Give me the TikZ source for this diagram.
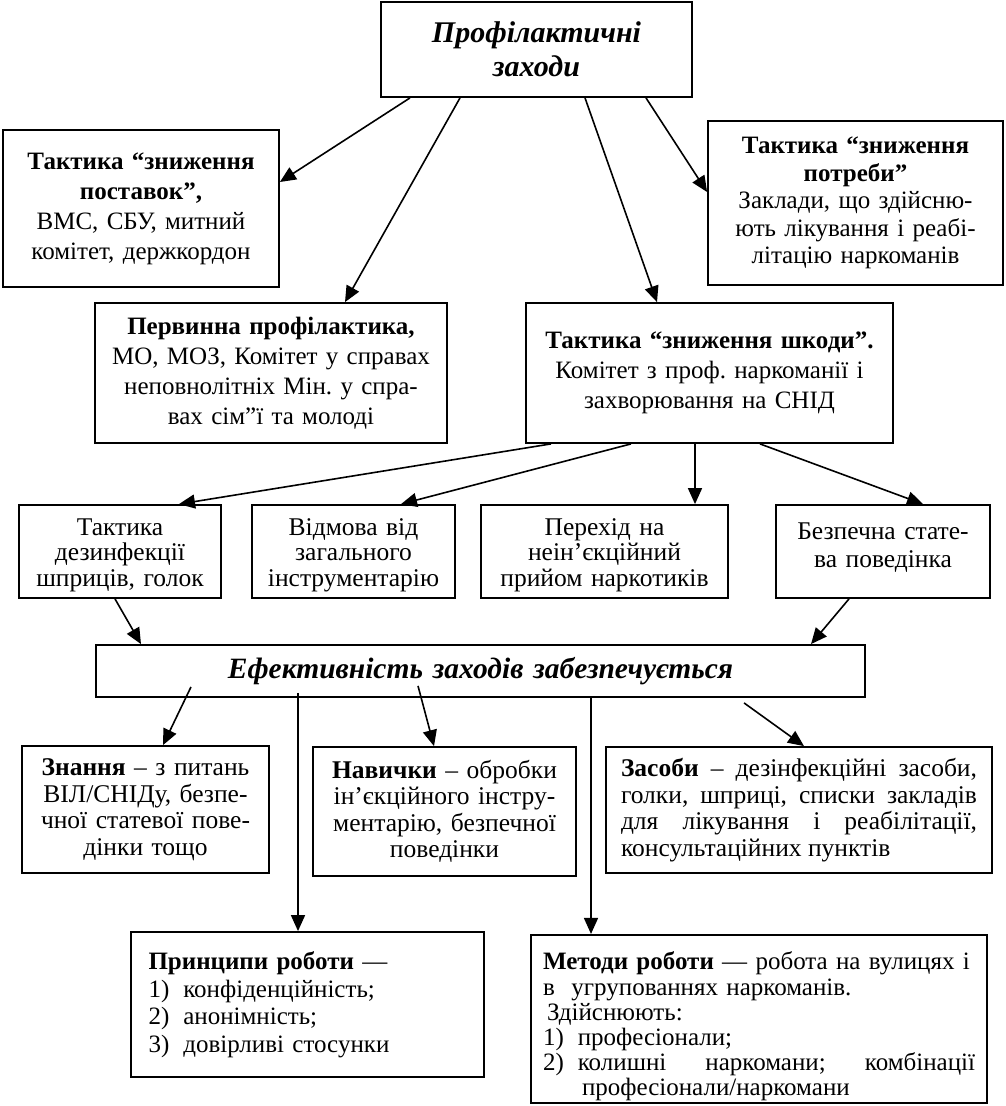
\documentclass[tikz,border=0pt]{standalone}
\usepackage{fontspec}
\setmainfont{Liberation Serif}
\usetikzlibrary{arrows.meta}
\tikzset{
  box/.style={draw, line width=1.8pt, rectangle, inner sep=2pt, align=center,
    font=\fontsize{25}{30}\selectfont\frenchspacing},
  rowbox/.style={box, font=\fontsize{25.5}{25.5}\selectfont},
  lowbox/.style={box, font=\fontsize{25.5}{26.5}\selectfont\frenchspacing},
  arr/.style={line width=1.6pt, -{Triangle[length=16pt,width=14pt]}},
}
\begin{document}
\begin{tikzpicture}[x=1pt,y=-1pt]
\useasboundingbox (0,0) rectangle (1005,1106);
\fill[white] (0,0) rectangle (1005,1106);

\node[box, minimum width=311pt, minimum height=95pt, text width=290pt,
  font=\fontsize{30}{34}\selectfont] (top) at (536.5,49.5)
  {\textbf{\textit{Профілактичні\\заходи}}};

\node[box, minimum width=276pt, minimum height=157pt, text width=266pt] (postavok) at (141,208.5)
  {\textbf{Тактика “зниження\\поставок”,}\\ВМС, СБУ, митний\\комітет, держкордон};

\node[box, minimum width=295pt, minimum height=164pt, text width=284pt,
  font=\fontsize{25}{27.5}\selectfont] (potreby) at (855.5,203)
  {\textbf{Тактика “зниження\\потреби”}\\Заклади, що здійсню-\\ють лікування і реабі-\\літацію наркоманів};

\node[box, minimum width=352pt, minimum height=140pt, text width=342pt] (pervynna) at (271,373)
  {\textbf{Первинна профілактика,}\\МО, МОЗ, Комітет у справах\\неповнолітніх Мін. у спра-\\вах сім”ї та  молоді};

\node[box, minimum width=367pt, minimum height=140pt, text width=356pt] (shkody) at (709.5,373)
  {\textbf{Тактика “зниження шкоди”.}\\Комітет з проф. наркоманії і\\захворювання на СНІД};

\node[rowbox, minimum width=202pt, minimum height=93pt, text width=198pt] (r1) at (120,551.5)
  {\rule{0pt}{24pt}Тактика\\дезинфекції\\шприців, голок};
\node[rowbox, minimum width=203pt, minimum height=93pt, text width=199pt] (r2) at (353.5,551.5)
  {\rule{0pt}{24pt}Відмова від\\загального\\інструментарію};
\node[rowbox, minimum width=247pt, minimum height=93pt, text width=243pt] (r3) at (604.5,551.5)
  {\rule{0pt}{24pt}Перехід на\\неін’єкційний\\прийом наркотиків};
\node[rowbox, minimum width=214pt, minimum height=93pt, text width=210pt,
  font=\fontsize{25.5}{28}\selectfont] (r4) at (883,551.5)
  {Безпечна стате-\\ва поведінка\vspace*{8pt}};

\node[box, minimum width=769pt, minimum height=52pt, text width=750pt,
  font=\fontsize{29.5}{32}\selectfont] (eff) at (480.5,671)
  {\textbf{\textit{Ефективність заходів забезпечується}}};

\node[lowbox, minimum width=247pt, minimum height=127pt, text width=240pt] (znannya) at (145.5,809.5)
  {\textbf{Знання} – з питань\\ВІЛ/СНІДу, безпе-\\чної статевої пове-\\дінки тощо};
\node[lowbox, minimum width=263pt, minimum height=129pt, text width=256pt] (navychky) at (444.5,811.5)
  {\textbf{Навички} – обробки\\ін’єкційного інстру-\\ментарію, безпечної\\поведінки};
\node[lowbox, minimum width=386pt, minimum height=126pt, text width=356pt, align=justify] (zasoby) at (799,810)
  {\textbf{Засоби} – дезінфекційні засоби,\linebreak голки, шприці, списки закладів\linebreak для лікування і реабілітації,\linebreak консультаційних пунктів};

\node[lowbox, minimum width=353pt, minimum height=145pt, text width=318pt, align=left,
  font=\fontsize{25}{27.5}\selectfont] (pryntsypy) at (307.5,1004.5)
  {\textbf{Принципи роботи} —\\
   1)\hspace{14pt}конфіденційність;\\
   2)\hspace{14pt}анонімність;\\
   3)\hspace{14pt}довірливі стосунки};

\node[lowbox, minimum width=456pt, minimum height=168pt, text width=432pt, align=left,
  font=\fontsize{25}{25.2}\selectfont] (metody) at (759,1019)
  {\rule{0pt}{33pt}\textbf{Методи роботи} — робота на вулицях і\\
   в\ \ угрупованнях наркоманів.\\
   \hspace{4pt}Здійснюють:\\
   1)\hspace{14pt}професіонали;\\
   2)\hspace{14pt}колишні\hfill наркомани;\hfill комбінації\\
   \hspace*{39pt}професіонали/наркомани};

% arrows from the top box
\draw[arr] ([xshift=-126.5pt]top.south) -- ([yshift=26.5pt]postavok.east);
\draw[arr] ([xshift=-76.5pt]top.south) -- ([xshift=74pt]pervynna.north);
\draw[arr] ([xshift=48.5pt]top.south) -- ([xshift=-52.5pt]shkody.north);
\draw[arr] ([xshift=109.5pt]top.south) -- ([yshift=11pt]potreby.west);

% arrows from harm reduction
\draw[arr] ([xshift=-158.5pt]shkody.south) -- ([xshift=59pt]r1.north);
\draw[arr] ([xshift=-78.5pt]shkody.south) -- ([xshift=47.5pt]r2.north);
\draw[arr] ([xshift=-14.5pt]shkody.south) -- ([xshift=90.5pt]r3.north);
\draw[arr] ([xshift=50.5pt]shkody.south) -- ([xshift=40pt]r4.north);

% into efficiency box
\draw[arr] ([xshift=-5pt]r1.south) -- ([xshift=-339.5pt]eff.north);
\draw[arr] ([xshift=-34pt]r4.south) -- ([xshift=330.5pt]eff.north);

% from efficiency box
\draw[arr] ([xshift=-289.5pt,yshift=11pt]eff.south) -- ([xshift=17.5pt]znannya.north);
\draw[arr] ([xshift=-62.5pt,yshift=12pt]eff.south) -- ([xshift=-10.5pt]navychky.north);
\draw[arr] ([xshift=263.5pt,yshift=-5pt]eff.south) -- ([xshift=5pt]zasoby.north);
\draw[arr] ([xshift=-182.5pt,yshift=5pt]eff.south) -- ([xshift=-9.5pt]pryntsypy.north);
\draw[arr] ([xshift=110.5pt]eff.south) -- ([xshift=-168pt]metody.north);
\end{tikzpicture}
\end{document}
